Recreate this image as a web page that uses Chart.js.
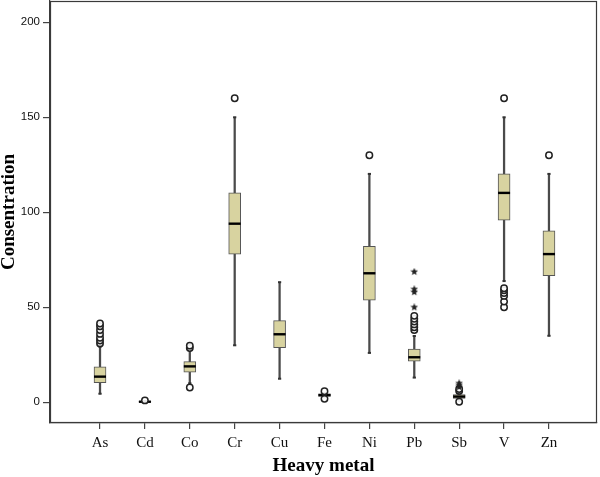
<!DOCTYPE html>
<html>
<head>
<meta charset="utf-8">
<script src="https://cdn.jsdelivr.net/npm/chart.js@4.4.1/dist/chart.umd.min.js"></script>
<style>
html,body{margin:0;padding:0;background:#fff;}
#c{display:block;}
</style>
</head>
<body>
<canvas id="c" width="600" height="477"></canvas>
<script>
// ---- data ----
const categories = ['As','Cd','Co','Cr','Cu','Fe','Ni','Pb','Sb','V','Zn'];
const whiskerLow  = [4.5, 0.0, 10.0, 30.0, 12.4, 2.6, 26.0, 13.0, 0.8, 63.8, 35.0];
const q1          = [10.3, 0.1, 15.8, 78.0, 28.7, 3.1, 53.8, 21.7, 2.0, 95.9, 66.6];
const median      = [13.5, 0.3, 18.9, 94.0, 35.8, 3.8, 67.9, 23.7, 3.0, 110.2, 78.0];
const q3          = [18.7, 0.5, 21.4, 110.3, 43.0, 4.4, 82.1, 28.0, 4.0, 120.2, 90.2];
const whiskerHigh = [29.3, 0.7, 27.5, 150.0, 63.2, 5.0, 120.2, 34.9, 5.5, 150.0, 120.2];
const outliers = [
  [31, 32.5, 34, 36, 38, 40, 41.5],
  [1.0],
  [28.6, 29.8, 7.8],
  [160],
  [],
  [5.8, 1.8],
  [130],
  [38, 39.5, 41, 42.5, 44, 45.5],
  [6, 7, 0.3],
  [50, 53, 56, 57.5, 59, 60, 160],
  [130]
];
const extremes = [
  [], [], [], [], [], [], [],
  [50, 58, 59.5, 68.7],
  [8, 9, 10],
  [], []
];
const yTicks = [0, 50, 100, 150, 200];

// ---- helpers ----
function starCanvas(size, color){
  const cv = document.createElement('canvas');
  cv.width = size; cv.height = size;
  const g = cv.getContext('2d');
  const cx = size/2, cy = size/2, R = size/2, r = R*0.45;
  g.beginPath();
  for (let k=0;k<10;k++){
    const a = -Math.PI/2 + k*Math.PI/5;
    const rr = (k%2===0)?R:r;
    const px = cx + rr*Math.cos(a), py = cy + rr*Math.sin(a);
    if(k===0) g.moveTo(px,py); else g.lineTo(px,py);
  }
  g.closePath();
  g.fillStyle = color; g.fill();
  return cv;
}

const whiskerData = categories.map((c,i)=>({x:i, y:[whiskerLow[i], whiskerHigh[i]]}));
const boxData = categories.map((c,i)=>({x:i, y:[q1[i], q3[i]]}));
const medianData = categories.map((c,i)=>({x:i, y:median[i]}));
const capData = categories.flatMap((c,i)=>[{x:i,y:whiskerLow[i]},{x:i,y:whiskerHigh[i]}]);
const outlierData = outliers.flatMap((arr,i)=>arr.map(v=>({x:i,y:v})));
const extremeData = extremes.flatMap((arr,i)=>arr.map(v=>({x:i,y:v})));

const framePlugin = {
  id:'frame',
  afterDatasetsDraw(chart){
    const {ctx, chartArea:a} = chart;
    ctx.save();
    ctx.strokeStyle = '#3a3a3a';
    ctx.lineWidth = 1.2;
    ctx.strokeRect(a.left+0.5, a.top+0.5, a.right-a.left-1, a.bottom-a.top-1);
    ctx.restore();
  }
};

new Chart(document.getElementById('c'), {
  type: 'bar',
  data: {
    datasets: [
      { type:'bar', data: whiskerData, backgroundColor:'#4a4a4a', borderWidth:0,
        barThickness:1.6, grouped:false, order:6 },
      { type:'bar', data: boxData, backgroundColor:'#d8d3a0', borderColor:'#555555',
        borderWidth:1, borderSkipped:false, barThickness:12, grouped:false, order:5 },
      { type:'scatter', data: medianData, pointStyle:'line', radius:6, borderWidth:2.4,
        borderColor:'#000', order:4 },
      { type:'scatter', data: capData, pointStyle:'line', radius:1.6, borderWidth:2,
        borderColor:'#333', order:4 },
      { type:'scatter', data: outlierData, pointStyle:'circle', radius:3.2, borderWidth:1.5,
        borderColor:'#222', backgroundColor:'rgba(255,255,255,0.9)', order:3 },
      { type:'scatter', data: extremeData, pointStyle: starCanvas(8,'#222'), radius:4,
        order:2 }
    ]
  },
  options: {
    responsive:false,
    animation:false,
    events:[],
    layout:{ autoPadding:false, padding:{ top:1, right:3, left:0, bottom:0 } },
    plugins:{ legend:{display:false}, tooltip:{enabled:false} },
    scales:{
      x:{
        type:'linear',
        offset:false,
        min:-1.114, max:11.07,
        afterFit(s){ s.height = 54; s.paddingLeft = 0; s.paddingRight = 0; },
        afterBuildTicks(s){ s.ticks = categories.map((c,i)=>({value:i})); },
        ticks:{
          callback:(v)=>categories[v],
          font:{ family:'"Liberation Serif", "Times New Roman", serif', size:15 },
          color:'#111', padding:5, maxRotation:0, autoSkip:false
        },
        grid:{ offset:false, drawOnChartArea:false, drawTicks:true, tickLength:6, color:'#444', lineWidth:1.2 },
        border:{ display:true, color:'#3a3a3a', width:1.2 },
        title:{ display:true, text:'Heavy metal',
          font:{ family:'"Liberation Serif", "Times New Roman", serif', size:19, weight:'bold', lineHeight:1.2 },
          color:'#000', padding:{top:0,bottom:0} }
      },
      y:{
        type:'linear',
        min:-10.9, max:211.2,
        afterFit(s){ s.width = 50; s.paddingTop = 0; s.paddingBottom = 0; },
        afterBuildTicks(s){ s.ticks = yTicks.map(v=>({value:v})); },
        ticks:{
          font:{ family:'"Liberation Sans", Arial, sans-serif', size:11.5 },
          color:'#111', padding:3
        },
        grid:{ drawOnChartArea:false, drawTicks:true, tickLength:7, color:'#444', lineWidth:1.2 },
        border:{ display:true, color:'#3a3a3a', width:1.2 },
        title:{ display:true, text:'Consentration',
          font:{ family:'"Liberation Serif", "Times New Roman", serif', size:19, weight:'bold', lineHeight:1 },
          color:'#000', padding:{top:0,bottom:0} }
      }
    }
  },
  plugins:[framePlugin]
});
</script>
</body>
</html>
